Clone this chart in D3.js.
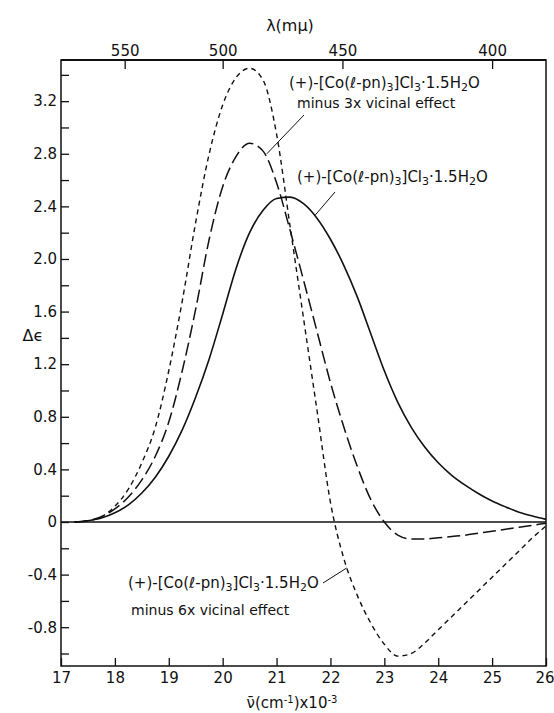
<!DOCTYPE html>
<html>
<head>
<meta charset="utf-8">
<script src="https://cdn.jsdelivr.net/npm/d3@7"></script>
<style>
  body { margin: 0; background: #fff; }
  text { font-family: "DejaVu Sans", sans-serif; fill: #111; }
</style>
</head>
<body>
<div id="chart"></div>
<script>
// wavenumber grid (x10^3 cm^-1), shared by the three curves
const nuGrid = [17.25, 17.5, 17.75, 18, 18.25, 18.5, 18.75, 19, 19.25, 19.5, 19.75, 20,
  20.25, 20.5, 20.75, 21, 21.25, 21.5, 21.75, 22, 22.25, 22.5, 22.75, 23,
  23.25, 23.5, 23.75, 24, 24.25, 24.5, 24.75, 25, 25.25, 25.5, 25.75, 26];

// (+)-[Co(l-pn)3]Cl3.1.5H2O
const solidDe = [0, 0.01, 0.03, 0.07, 0.13, 0.22, 0.34, 0.5, 0.7, 0.95, 1.24, 1.58,
  1.93, 2.2, 2.37, 2.46, 2.47, 2.42, 2.31, 2.15, 1.95, 1.71, 1.43, 1.15,
  0.91, 0.72, 0.57, 0.45, 0.355, 0.28, 0.215, 0.16, 0.115, 0.075, 0.045, 0.02];

// minus 3x vicinal effect
const minus3De = [0, 0.01, 0.04, 0.1, 0.19, 0.32, 0.5, 0.76, 1.15, 1.62, 2.15, 2.55,
  2.78, 2.88, 2.82, 2.58, 2.22, 1.84, 1.45, 1.06, 0.72, 0.42, 0.17, 0,
  -0.1, -0.13, -0.13, -0.12, -0.11, -0.1, -0.085, -0.07, -0.055, -0.04, -0.025, -0.01];

// minus 6x vicinal effect
const minus6De = [0, 0.01, 0.04, 0.12, 0.25, 0.45, 0.72, 1.15, 1.68, 2.28, 2.8, 3.17,
  3.38, 3.45, 3.36, 2.95, 2.25, 1.55, 0.85, 0.15, -0.28, -0.56, -0.77, -0.93,
  -1.02, -1, -0.92, -0.82, -0.72, -0.62, -0.52, -0.42, -0.32, -0.22, -0.12, -0.03];

const nuTicks = [17, 18, 19, 20, 21, 22, 23, 24, 25, 26];
const lambdaTicks = [550, 500, 450, 400];
const deTicks = [-0.8, -0.4, 0, 0.4, 0.8, 1.2, 1.6, 2.0, 2.4, 2.8, 3.2];
const deMinor = [-1.0, -0.6, -0.2, 0.2, 0.6, 1.0, 1.4, 1.8, 2.2, 2.6, 3.0, 3.4];

const W = 554, H = 713;
const mLeft = 61, mRight = 546, mTop = 60, mBottom = 666;

const svg = d3.select("#chart").append("svg")
  .attr("width", W).attr("height", H);

const x = d3.scaleLinear().domain([17, 26]).range([mLeft, mRight]);
const y = d3.scaleLinear().domain([-1.095, 3.513]).range([mBottom, mTop]);

// axes (ticks inward)
svg.append("g")
  .attr("transform", `translate(0,${mBottom})`)
  .call(d3.axisBottom(x).tickValues(nuTicks).tickSizeInner(-8).tickSizeOuter(0).tickPadding(6)
    .tickFormat(d3.format("d")))
  .call(g => g.select(".domain").remove())
  .call(g => g.selectAll("text").attr("font-size", 15).attr("fill", "#111"))
  .call(g => g.selectAll("text").filter(d => d === 26).attr("text-anchor", "end").attr("x", 8));

svg.append("g")
  .attr("transform", `translate(0,${mTop})`)
  .call(d3.axisTop(x).tickValues(lambdaTicks.map(l => 1e4 / l)).tickSizeInner(-9).tickSizeOuter(0)
    .tickPadding(4).tickFormat(v => Math.round(1e4 / v)))
  .call(g => g.select(".domain").remove())
  .call(g => g.selectAll("text").attr("font-size", 15).attr("fill", "#111"));

const fmt = v => (v === 0 ? "0" : d3.format(".1f")(v).replace("\u2212", "-"));
svg.append("g")
  .attr("transform", `translate(${mLeft},0)`)
  .call(d3.axisLeft(y).tickValues(deTicks).tickSizeInner(-8).tickSizeOuter(0).tickPadding(4)
    .tickFormat(fmt))
  .call(g => g.select(".domain").remove())
  .call(g => g.selectAll("text").attr("font-size", 15).attr("fill", "#111"));

svg.append("g")
  .attr("transform", `translate(${mLeft},0)`)
  .call(d3.axisLeft(y).tickValues(deMinor).tickSizeInner(-8).tickSizeOuter(0).tickFormat(""))
  .call(g => g.select(".domain").remove());

svg.selectAll(".tick line").attr("stroke", "#111").attr("stroke-width", 1.3);

// frame
svg.append("rect")
  .attr("x", mLeft).attr("y", mTop)
  .attr("width", mRight - mLeft).attr("height", mBottom - mTop)
  .attr("fill", "none").attr("stroke", "#111").attr("stroke-width", 1.5);
svg.append("line")
  .attr("x1", mLeft).attr("x2", mRight).attr("y1", mTop).attr("y2", mTop)
  .attr("stroke", "#111").attr("stroke-width", 2.2);

// zero line
svg.append("line")
  .attr("x1", mLeft).attr("x2", mRight).attr("y1", y(0)).attr("y2", y(0))
  .attr("stroke", "#111").attr("stroke-width", 1.6);

// curves
const line = d3.line()
  .x((d, i) => x(nuGrid[i]))
  .y(d => y(d))
  .curve(d3.curveMonotoneX);

svg.append("path").datum(solidDe)
  .attr("d", line).attr("fill", "none").attr("stroke", "#111").attr("stroke-width", 1.6);
svg.append("path").datum(minus3De)
  .attr("d", line).attr("fill", "none").attr("stroke", "#111").attr("stroke-width", 1.5)
  .attr("stroke-dasharray", "13,5");
svg.append("path").datum(minus6De)
  .attr("d", line).attr("fill", "none").attr("stroke", "#111").attr("stroke-width", 1.4)
  .attr("stroke-dasharray", "5,4");

// compound labels
function formula(g, px, py) {
  const t = g.append("text").attr("x", px).attr("y", py).attr("font-size", 15);
  const part = (s, sub) => {
    const ts = t.append("tspan").text(s);
    if (sub) ts.attr("font-size", 11).attr("baseline-shift", "-30%");
  };
  part("(+)-[Co(\u2113-pn)");
  part("3", true);
  part("]Cl");
  part("3", true);
  part("\u00b71.5H");
  part("2", true);
  part("O");
  return t;
}

const notes = svg.append("g");
formula(notes, 289, 88);
notes.append("text").attr("x", 297).attr("y", 108).attr("font-size", 14)
  .text("minus 3x vicinal effect");
formula(notes, 297, 182);
formula(notes, 128, 588);
notes.append("text").attr("x", 131).attr("y", 615).attr("font-size", 14)
  .text("minus 6x vicinal effect");

const pointers = [
  [[304, 115], [x(20.82), y(2.8)]],
  [[335, 192], [x(21.71), y(2.33)]],
  [[323, 583], [x(22.3), y(-0.35)]]
];
notes.selectAll("line.ptr").data(pointers).enter().append("line")
  .attr("class", "ptr")
  .attr("x1", d => d[0][0]).attr("y1", d => d[0][1])
  .attr("x2", d => d[1][0]).attr("y2", d => d[1][1])
  .attr("stroke", "#111").attr("stroke-width", 1);

// axis titles
svg.append("text").attr("x", 290).attr("y", 31).attr("text-anchor", "middle")
  .attr("font-size", 16).text("\u03bb(m\u03bc)");
svg.append("text").attr("x", 33).attr("y", 341).attr("text-anchor", "middle")
  .attr("font-size", 16).text("\u0394\u03f5");

const xt = svg.append("text").attr("x", 292).attr("y", 708).attr("text-anchor", "middle")
  .attr("font-size", 15);
xt.append("tspan").text("\u03bd\u0304(cm");
xt.append("tspan").attr("font-size", 10).attr("baseline-shift", "super").text("-1");
xt.append("tspan").text(")x10");
xt.append("tspan").attr("font-size", 10).attr("baseline-shift", "super").text("-3");
</script>
</body>
</html>
